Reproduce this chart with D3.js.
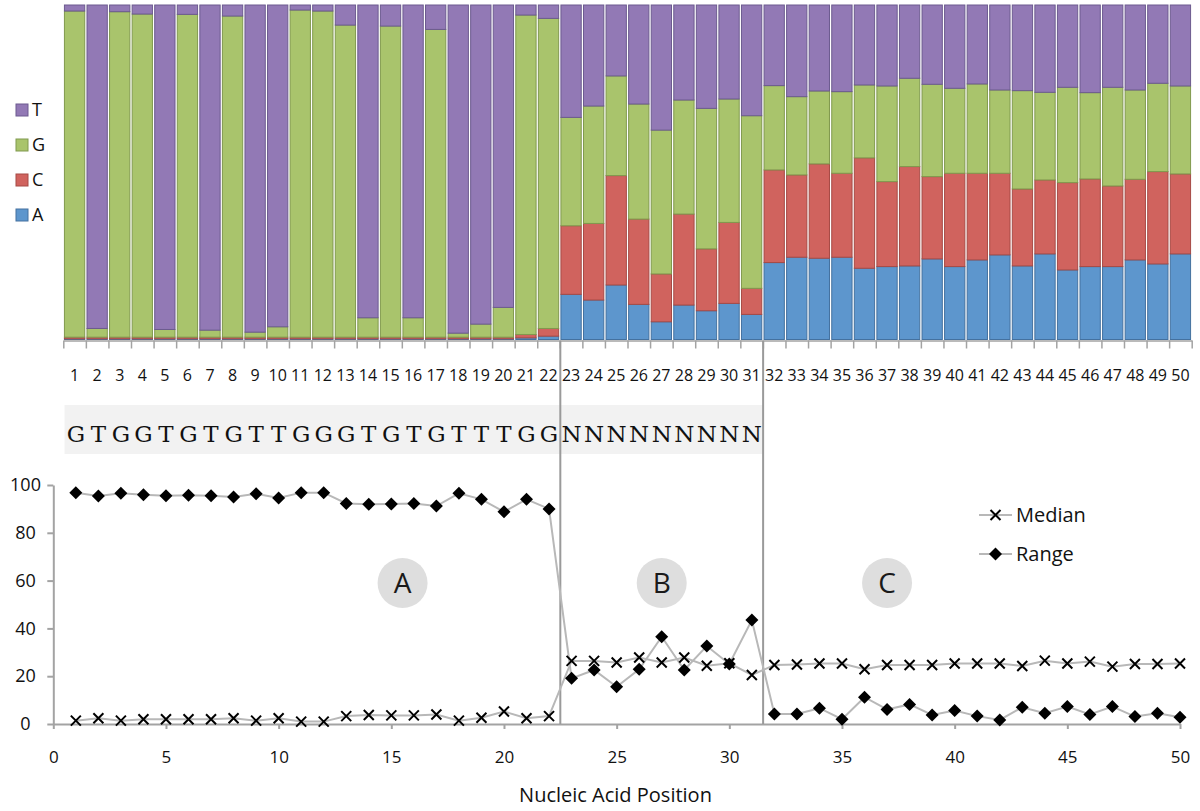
<!DOCTYPE html>
<html><head><meta charset="utf-8">
<script src="https://cdn.jsdelivr.net/npm/d3@7"></script>
<style>
body{margin:0;background:#fff;}
svg{display:block;font-family:'Open Sans',sans-serif;}
</style>
</head><body>
<svg id="chart" width="1200" height="811"></svg>
<script>
// ---------- DATA ----------
const positions = d3.range(1, 51);
const pctA = [0.2,0.2,0.2,0.2,0.2,0.2,0.2,0.2,0.2,0.2,0.2,0.2,0.2,0.2,0.2,0.2,0.2,0.2,0.2,0.2,
  0.5,1.0,13.5,11.8,16.3,10.5,5.3,10.3,8.6,10.8,7.5,
  23.0,24.6,24.3,24.6,21.3,21.8,22.0,24.1,21.8,23.8,25.3,22.0,25.6,20.8,21.8,21.8,23.8,22.6,25.6];
const pctC = [0.5,0.5,0.5,0.5,0.5,0.5,0.5,0.5,0.5,0.5,0.5,0.5,0.5,0.5,0.5,0.5,0.5,0.5,0.5,0.5,
  1.0,2.3,20.5,22.9,32.7,25.5,14.3,27.2,18.5,24.2,7.8,
  27.7,24.6,28.2,25.1,33.0,25.4,29.7,24.6,27.9,25.9,24.4,23.0,22.1,26.1,26.2,24.1,24.1,27.6,23.9];
const pctG = [97.5,2.6,97.3,96.6,2.3,96.5,2.1,96.0,1.5,3.1,97.8,97.5,93.3,5.8,93.0,5.8,92.0,1.2,3.9,8.9,
  95.5,92.7,32.4,35.1,29.8,34.4,43.0,34.1,42.0,36.9,51.6,
  25.2,23.4,21.8,24.4,21.8,28.6,26.4,27.6,25.4,26.7,24.9,29.4,26.2,28.5,25.8,29.5,26.7,26.4,26.3];
const pctT = [1.8,96.7,2.0,2.7,97.0,2.8,97.2,3.3,97.8,96.2,1.5,1.8,6.0,93.5,6.3,93.5,7.3,98.1,95.4,90.4,
  3.0,4.0,33.6,30.2,21.2,29.6,37.4,28.4,30.9,28.1,33.1,
  24.1,27.4,25.7,25.9,23.9,24.2,21.9,23.7,24.9,23.6,25.4,25.6,26.1,24.6,26.2,24.6,25.4,23.4,24.2];
const bases = ["A", "C", "G", "T"];
const legendBases = ["T", "G", "C", "A"];
const sequence = "GTGGTGTGTTGGGTGTGTTTGGNNNNNNNNN".split("");
const medianVals = [1.4,2.4,1.4,2.0,2.0,2.0,2.0,2.4,1.4,2.4,1.0,1.0,3.3,3.8,3.6,3.6,4.0,1.4,2.6,5.2,2.4,3.3,
  26.4,26.4,25.7,27.8,25.7,27.8,24.4,25.4,20.5,
  24.7,24.9,25.3,25.3,22.9,24.7,24.7,24.7,25.3,25.3,25.3,24.3,26.5,25.3,26.1,24.0,25.1,25.1,25.3];
const rangeVals = [96.8,95.4,96.5,95.9,95.5,95.7,95.5,95.0,96.3,94.6,96.8,96.8,92.3,91.9,92.0,92.3,91.2,96.5,94.0,88.8,94.0,90.0,
  19.1,22.6,15.6,22.9,36.5,22.6,32.6,25.1,43.5,
  4.2,4.2,6.6,2.0,11.2,6.1,8.2,3.8,5.6,3.3,1.7,7.0,4.5,7.3,4.0,7.3,3.1,4.5,2.8];
const seriesNames = ["Median", "Range"];
const xTicksBottom = [0, 5, 10, 15, 20, 25, 30, 35, 40, 45, 50];
const yTicksBottom = [0, 20, 40, 60, 80, 100];
const regionLabels = ["A", "B", "C"];
const regionX = [15.5, 27, 37];
const regionY = 59;
const dividers = [22.5, 31.5];
const xTitle = "Nucleic Acid Position";

// ---------- STYLE ----------
const fills = {A: "#5d96cd", C: "#d0635e", G: "#a9c46c", T: "#9279b5"};
const strokes = {A: "#44719f", C: "#a64a45", G: "#80994e", T: "#6c5b8f"};
const axisGray = "#a3a3a3";

const svg = d3.select("#chart");

// ---------- TOP STACKED BARS ----------
const xTop = d3.scaleLinear().domain([0.5, 50.5]).range([63.3, 1191.7]);
const yTop = d3.scaleLinear().domain([0, 100]).range([339.5, 5]);
const step = xTop(1.5) - xTop(0.5);
const barW = step * 0.9;

const table = positions.map((p, i) => ({pos: p, A: pctA[i], C: pctC[i], G: pctG[i], T: pctT[i]}));
const stacked = d3.stack().keys(bases)(table);

const gBars = svg.append("g");
stacked.forEach(layer => {
  gBars.selectAll(null).data(layer).enter().append("rect")
    .attr("x", d => xTop(d.data.pos) - barW / 2)
    .attr("y", d => yTop(d[1]))
    .attr("width", barW)
    .attr("height", d => Math.max(0, yTop(d[0]) - yTop(d[1])))
    .attr("fill", fills[layer.key])
    .attr("stroke", strokes[layer.key])
    .attr("stroke-width", 1);
});

// top category axis
const topAxis = d3.axisBottom(xTop)
  .tickValues(d3.range(0.5, 51, 1))
  .tickFormat("")
  .tickSizeInner(8).tickSizeOuter(0);
const gTopAxis = svg.append("g").attr("transform", "translate(0,340.5)").call(topAxis);
gTopAxis.select(".domain").attr("stroke", axisGray).attr("stroke-width", 1.5);
gTopAxis.selectAll(".tick line").attr("stroke", axisGray).attr("stroke-width", 1.5);

svg.append("g").selectAll("text").data(positions).enter().append("text")
  .attr("x", d => xTop(d))
  .attr("y", 380.5)
  .attr("text-anchor", "middle")
  .attr("font-size", 16)
  .attr("fill", "#111")
  .text(d => d);

// top legend
const gLeg = svg.append("g");
legendBases.forEach((b, i) => {
  const cy = 110 + i * 35;
  gLeg.append("rect").attr("x", 16).attr("y", cy - 6).attr("width", 12).attr("height", 12)
    .attr("fill", fills[b]).attr("stroke", strokes[b]).attr("stroke-width", 1);
  gLeg.append("text").attr("x", 32).attr("y", cy).attr("dy", "0.36em")
    .attr("font-size", 18).attr("fill", "#111").text(b);
});

// ---------- BOTTOM LINE CHART ----------
const xB = d3.scaleLinear().domain([0, 50]).range([53.3, 1180]);
const yB = d3.scaleLinear().domain([0, 100]).range([724, 485]);

// sequence band
svg.append("rect")
  .attr("x", xB(0.5)).attr("y", 405)
  .attr("width", xB(sequence.length + 0.5) - xB(0.5)).attr("height", 49)
  .attr("fill", "#f2f2f2");
svg.append("g").selectAll("text").data(sequence).enter().append("text")
  .attr("x", (d, i) => xB(i + 1))
  .attr("y", 441.5)
  .attr("text-anchor", "middle")
  .attr("font-family", "'DejaVu Serif', serif")
  .attr("font-size", 23)
  .attr("fill", "#111")
  .text(d => d);

// region circles
regionLabels.forEach((lab, i) => {
  svg.append("circle").attr("cx", xB(regionX[i])).attr("cy", yB(regionY)).attr("r", 25)
    .attr("fill", "#dedede");
  svg.append("text").attr("x", xB(regionX[i])).attr("y", yB(regionY)).attr("dy", "0.36em")
    .attr("text-anchor", "middle").attr("font-size", 28).attr("fill", "#1a1a1a").text(lab);
});

// axes
const gY = svg.append("g").attr("transform", `translate(${xB(0)},0)`)
  .call(d3.axisLeft(yB).tickValues(yTicksBottom).tickSizeInner(6).tickSizeOuter(0));
gY.select(".domain").attr("stroke", axisGray).attr("stroke-width", 2);
gY.selectAll(".tick line").attr("stroke", axisGray).attr("stroke-width", 2);
gY.selectAll(".tick text").attr("x", 25.5 - xB(0)).attr("text-anchor", "middle")
  .attr("font-size", 18).attr("fill", "#111").attr("font-family", "'Open Sans',sans-serif");

const gX = svg.append("g").attr("transform", `translate(0,${yB(0)})`)
  .call(d3.axisBottom(xB).tickValues(xTicksBottom).tickSizeInner(5).tickSizeOuter(0));
gX.select(".domain").attr("stroke", axisGray).attr("stroke-width", 2);
gX.selectAll(".tick line").attr("stroke", axisGray).attr("stroke-width", 2);
gX.selectAll(".tick text").attr("y", 38.7).attr("dy", 0)
  .attr("font-size", 17).attr("fill", "#111").attr("font-family", "'Open Sans',sans-serif");

svg.append("text").attr("x", 615.5).attr("y", 801.5).attr("text-anchor", "middle")
  .attr("font-size", 20).attr("fill", "#111").text(xTitle);

// dividers
svg.append("g").selectAll("line").data(dividers).enter().append("line")
  .attr("x1", d => xB(d)).attr("x2", d => xB(d))
  .attr("y1", 341).attr("y2", yB(0))
  .attr("stroke", "#9a9a9a").attr("stroke-width", 2);

// series
const lineGen = d3.line().x((d, i) => xB(i + 1)).y(d => yB(d));
const xMark = "M-5,-5L5,5M5,-5L-5,5";
const diamond = "M0,-6.5L6.5,0L0,6.5L-6.5,0Z";

svg.append("path").datum(medianVals).attr("d", lineGen)
  .attr("fill", "none").attr("stroke", "#b8b8b8").attr("stroke-width", 2);
svg.append("path").datum(rangeVals).attr("d", lineGen)
  .attr("fill", "none").attr("stroke", "#b8b8b8").attr("stroke-width", 2);

svg.append("g").selectAll("path").data(medianVals).enter().append("path")
  .attr("transform", (d, i) => `translate(${xB(i + 1)},${yB(d)})`)
  .attr("d", xMark).attr("fill", "none").attr("stroke", "#000").attr("stroke-width", 2);
svg.append("g").selectAll("path").data(rangeVals).enter().append("path")
  .attr("transform", (d, i) => `translate(${xB(i + 1)},${yB(d)})`)
  .attr("d", diamond).attr("fill", "#000");

// bottom legend
const legY = [515, 554];
const legMarks = [xMark, diamond];
seriesNames.forEach((name, i) => {
  svg.append("line").attr("x1", 979).attr("x2", 1012).attr("y1", legY[i]).attr("y2", legY[i])
    .attr("stroke", "#b8b8b8").attr("stroke-width", 2);
  const m = svg.append("path").attr("transform", `translate(995.5,${legY[i]})`).attr("d", legMarks[i]);
  if (i === 0) m.attr("fill", "none").attr("stroke", "#000").attr("stroke-width", 2);
  else m.attr("fill", "#000");
  svg.append("text").attr("x", 1016).attr("y", legY[i]).attr("dy", "0.36em")
    .attr("font-size", 20).attr("fill", "#111").text(name);
});
</script>
</body></html>
